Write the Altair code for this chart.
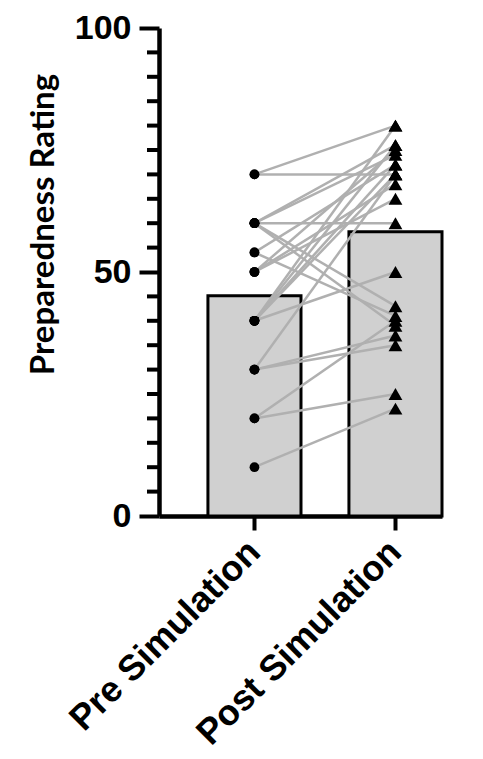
import altair as alt
import pandas as pd

groups = ["Pre Simulation", "Post Simulation"]
pre = [70, 70, 60, 60, 60, 60, 60, 54, 54, 50, 50, 50, 40, 40, 40, 40, 40, 30, 30, 30, 20, 20, 10]
post = [80, 70, 76, 74, 60, 43, 39, 72, 41, 68, 65, 75, 76, 72, 70, 80, 50, 70, 37, 35, 40, 25, 22]
major_ticks = [0, 50, 100]
minor_ticks = [5, 10, 15, 20, 25, 30, 35, 40, 45, 55, 60, 65, 70, 75, 80, 85, 90, 95]

rows = []
for i, (a, b) in enumerate(zip(pre, post)):
    rows.append({"id": i, "group": groups[0], "value": a})
    rows.append({"id": i, "group": groups[1], "value": b})
df = pd.DataFrame(rows)

xscale = alt.Scale(domain=groups, paddingInner=0.34, paddingOuter=0.1735, align=1)
yscale = alt.Scale(domain=[0, 100], nice=False)

xaxis = alt.Axis(
    title=None, labelAngle=-45, labelFont="Liberation Sans", labelFontWeight="bold",
    labelFontSize=36, labelColor="black", labelAlign="right", labelBaseline="middle",
    labelPadding=16, labelLimit=0, domainColor="black", domainWidth=4.5, tickColor="black",
    tickWidth=4, tickSize=14, grid=False,
)
yaxis = alt.Axis(
    values=major_ticks, title="Preparedness Rating", titleFont="Lato", titleFontSize=33,
    titleFontWeight="bold", titleColor="black", titleX=-116, titleY=196,
    titleAngle=-90, titleAlign="center", titleBaseline="middle", titleLimit=0,
    labelFont="Liberation Sans", labelFontSize=34, labelFontWeight="bold",
    labelColor="black", labelPadding=8, tickSize=20, tickWidth=4, tickColor="black",
    domainColor="black", domainWidth=4.5, grid=False,
)

x = alt.X("group:N", scale=xscale, sort=groups, axis=xaxis)

bars = alt.Chart(df).mark_bar(fill="#d0d0d0", stroke="black", strokeWidth=3).encode(
    x=x, y=alt.Y("mean(value):Q", scale=yscale, axis=yaxis)
)
lines = alt.Chart(df).mark_line(color="#b0b0b0", strokeWidth=2.5).encode(
    x=x, y=alt.Y("value:Q", scale=yscale, axis=yaxis), detail="id:N"
)
points = alt.Chart(df).mark_point(filled=True, opacity=1, color="black").encode(
    x=x,
    y=alt.Y("value:Q", scale=yscale, axis=yaxis),
    shape=alt.Shape("group:N", scale=alt.Scale(domain=groups, range=["circle", "triangle-up"]), legend=None),
    size=alt.Size("group:N", scale=alt.Scale(domain=groups, range=[95, 190]), legend=None),
)
minor = alt.Chart(pd.DataFrame({"t": minor_ticks})).mark_rule(color="black", strokeWidth=4).encode(
    y=alt.Y("t:Q", scale=yscale, axis=yaxis), x=alt.value(-12), x2=alt.value(0)
)

chart = alt.layer(bars, lines, points, minor).properties(
    width=283, height=488,
    padding={"left": 18, "top": 3, "right": 5, "bottom": 0},
).configure_view(stroke=None)

chart.save("out.html", embed_options={"renderer": "svg", "actions": False})
